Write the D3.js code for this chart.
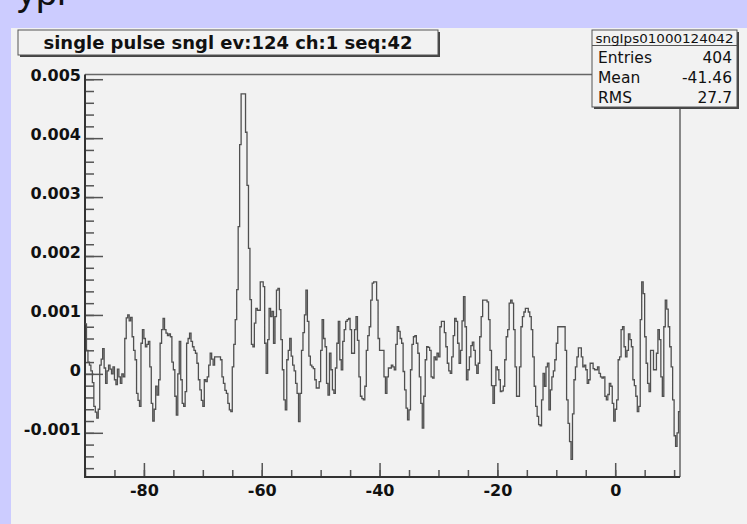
<!DOCTYPE html>
<html>
<head>
<meta charset="utf-8">
<script src="https://cdn.jsdelivr.net/npm/d3@7"></script>
<style>
  body { margin: 0; background: #ccccff; overflow: hidden; }
  svg { display: block; }
  .tick line { stroke: #555; stroke-width: 1.5; }
  .tick text { font-family: 'DejaVu Sans', sans-serif; font-weight: bold; font-size: 16px; fill: #111; }
</style>
</head>
<body>
<div id="chart"></div>
<script>
// histogram settings
const histTitle = 'single pulse sngl ev:124 ch:1 seq:42';
const histName = 'sngIps01000124042';
const xLimits = [-90, 11];

// bin contents, in units of 1e-4 (404 bins of 0.25)
const binContent = [
  8.5, 4, 2, 1.5, 0.5, -1.5, -5.5, -6.5, -7.5, -6,
  1.5, 2.5, 4.3, 1, -1.6, 0.5, 1.5, 0.8, 0, 1.2,
  -1, -1.8, 0.8, -0.5, -1.6, 0, -0.5, 6, 9.5, 10,
  9, 9.6, 6.3, 4, 2.4, -3.3, -4.5, -5.5, 5.2, 7.5,
  6, 4.6, 5, 5.5, 1.2, -5, -8, -6, -2.1, -3.6,
  -1, 5.2, 7.5, 9.4, 7.5, 6.9, 6.5, 6.8, 6.3, 2,
  0.7, -3.8, -7, 0, 5.5, -1, -5, -5.5, -3, 5.2,
  6, 6.9, 5.5, 4.6, 4, 3.5, 1.8, -1, -2.7, -4.5,
  -5.5, -1, -1.3, -0.5, 1.5, 3.5, 2.5, 1.5, 2.9, 2.9,
  2.9, 2.9, 2.4, -0.5, -1.6, -2.8, -3.3, -5, -6.1, -6.4,
  1.2, 5, 9.2, 14.3, 25, 38.9, 47.5, 47.5, 47.5, 41,
  32, 21.3, 12.6, 5, 4.6, 8.6, 11.1, 10.8, 10.8, 15.6,
  15.6, 14.8, 5.2, 0.1, 5.8, 11.1, 9.7, 10.6, 5.2, 9.7,
  14.2, 14.5, 10.9, 5.8, 0.7, -4.4, -6.1, 2.4, 4, 6,
  3, 1.5, 0.5, -1.6, -3.3, -8.1, -3.3, 4, 7, 10,
  14.2, 8.9, 3, 1.5, 1.2, 0.9, -1, -2.4, -2.4, -1.3,
  4, 9.2, 6, 4.6, -1.6, -3.6, 3.5, 0.7, -2.7, -3.3,
  1, 5.2, 8.9, 2.4, 0.7, 5.5, 7.5, 8.9, 9.2, 9.4,
  7.5, 3.5, 3.5, 7.5, 9.7, 5.7, -0.5, -3.8, -4.2, -4.4,
  -2.1, 4, 6.5, 8, 12.5, 15.4, 15.6, 15.6, 12.5, 6,
  4, 4, 4, -0.5, -3.3, -0.5, 1, 1, 1.5, 1.2,
  0.7, 5, 8, 7.2, 6, 5.2, 0.4, -2.7, -5.8, -7.8,
  -6.1, 0.7, 5, 6.3, 6.5, 5.2, 3.5, -0.5, -5, -9.2,
  -3.8, 2.4, 4.6, 4.5, 4, -0.5, -0.7, 2.9, 2.4, 3.5,
  2.9, 8, 8.9, 8.9, 7, 4.6, 1.8, 0.5, 0.1, 2.9,
  6.5, 9.4, 8.9, 5.2, 1.8, 4, 9, 13.1, 8, -1,
  0.7, 2.9, 4.8, 5.4, 4, 1.5, 0.1, 1.8, 6.3, 9.7,
  12.5, 12.5, 12.5, 12.2, 9.2, 4, -2, -5, -2, 1.2,
  0.7, -1, -3, -2.9, -2.1, 2.4, 6.3, 7.5, 12, 12.5,
  12, 7.5, 1.2, -3.8, -3.8, 1.2, 8, 9.7, 10.5, 11.1,
  11.1, 10.5, 9.7, 7.5, 2.9, -2.1, -5.5, -7.2, -8.6, -8.8,
  -4.4, 0.1, -2.1, 1.2, 1.8, -6.1, -2.7, -0.5, 0.5, 2.4,
  5.2, 8, 8, 8, 8, 8, 4, -4.4, -8.4, -11.5,
  -14.5, -6.8, -1, 1.2, 2.9, 4.4, 4.4, 2.9, 1.2, 1.5,
  0.7, -1.6, -1, 1.8, 1.8, 0.9, 0.7, 0.7, 1.2, 0.1,
  -0.5, -0.7, -0.5, -3.8, -4.4, -3.5, -1.6, -2.1, -5, -8,
  -6, -4.4, 2.4, 2.9, 7.5, 8, 4.6, 2.9, 4, 6.8,
  5.8, 4.6, -1, -2, -3.8, -6.4, -5.5, 9.2, 15.6, 13.6,
  6.3, 1.8, -1.6, -3, 4, 4, 0.7, 0.7, 3.5, 7.5,
  5.8, -0.5, -3.8, 8, 12.5, 11, 8, 4.6, 1.2, -4.4,
  -10.5, -12.3, -10, -6.4
];

// axis ticks and labels
const xTickValues = [-80, -60, -40, -20, 0];
const xTickLabels = ['-80', '-60', '-40', '-20', '0'];
const yTickValues = [-0.001, 0, 0.001, 0.002, 0.003, 0.004, 0.005];
const yTickLabels = ['-0.001', '0', '0.001', '0.002', '0.003', '0.004', '0.005'];

// statistics box
const statNames = ['Entries', 'Mean', 'RMS'];
const statValues = ['404', '-41.46', '27.7'];

class HistogramChart {

  constructor(_config) {
    this.config = {
      parentElement: _config.parentElement,
      containerWidth: 747,
      containerHeight: 524,
      frame: { left: 85, right: 680, top: 74.5, bottom: 477 }
    };
    this.initVis();
  }

  initVis() {
    let vis = this;
    const f = vis.config.frame;

    vis.svg = d3.select(vis.config.parentElement).append('svg')
      .attr('width', vis.config.containerWidth)
      .attr('height', vis.config.containerHeight);

    // bit of page heading that is cut off above the canvas
    vis.svg.append('text')
      .attr('x', 17)
      .attr('y', 5)
      .style('font-family', 'Liberation Sans, sans-serif')
      .style('font-size', '38px')
      .style('fill', '#111')
      .text('ypi');

    // canvas
    vis.svg.append('rect')
      .attr('x', 11)
      .attr('y', 28)
      .attr('width', 736)
      .attr('height', 496)
      .attr('fill', '#f2f2f2');

    vis.xScale = d3.scaleLinear()
      .domain(xLimits)
      .range([f.left, f.right]);
    vis.yScale = d3.scaleLinear()
      .domain([-0.00175, 0.00508])
      .range([f.bottom, f.top]);

    // minor ticks first, then major ticks with labels (ticks point inwards)
    vis.svg.append('g')
      .attr('transform', `translate(0,${f.bottom})`)
      .call(d3.axisBottom(vis.xScale)
        .tickValues(d3.range(-90, 11, 5))
        .tickSize(-7).tickSizeOuter(0).tickFormat(''))
      .call(g => g.select('.domain').remove());

    vis.svg.append('g')
      .attr('transform', `translate(0,${f.bottom})`)
      .call(d3.axisBottom(vis.xScale)
        .tickValues(xTickValues)
        .tickSize(-14).tickSizeOuter(0)
        .tickFormat((d, i) => xTickLabels[i]))
      .call(g => g.select('.domain').remove())
      .call(g => g.selectAll('text').attr('y', 19).attr('dy', null));

    vis.svg.append('g')
      .attr('transform', `translate(${f.left},0)`)
      .call(d3.axisLeft(vis.yScale)
        .tickValues(d3.range(-16, 51, 2).map(d => d * 1e-4))
        .tickSize(-9).tickSizeOuter(0).tickFormat(''))
      .call(g => g.select('.domain').remove());

    vis.svg.append('g')
      .attr('transform', `translate(${f.left},0)`)
      .call(d3.axisLeft(vis.yScale)
        .tickValues(yTickValues)
        .tickSize(-18).tickSizeOuter(0)
        .tickFormat((d, i) => yTickLabels[i]))
      .call(g => g.select('.domain').remove())
      .call(g => g.selectAll('text').attr('x', -4).attr('dy', '0.1em'));

    // frame: thin top/right, heavier axis lines
    vis.svg.append('path')
      .attr('d', `M${f.left},${f.top}H${f.right}V${f.bottom}`)
      .attr('fill', 'none')
      .attr('stroke', '#666')
      .attr('stroke-width', 1.5);
    vis.svg.append('path')
      .attr('d', `M${f.left},${f.top}V${f.bottom}H${f.right}`)
      .attr('fill', 'none')
      .attr('stroke', '#333')
      .attr('stroke-width', 2);

    vis.histLine = vis.svg.append('path')
      .attr('fill', 'none')
      .attr('stroke', '#505050')
      .attr('stroke-width', 1.3);

    vis.drawTitleBox();
    vis.drawStatsBox();
  }

  renderVis() {
    let vis = this;
    const binWidth = (xLimits[1] - xLimits[0]) / binContent.length;

    // step line: one horizontal run per bin
    const points = binContent.map((v, i) => [xLimits[0] + i * binWidth, v * 1e-4]);
    points.push([xLimits[1], binContent[binContent.length - 1] * 1e-4]);

    const line = d3.line()
      .x(d => vis.xScale(d[0]))
      .y(d => vis.yScale(d[1]))
      .curve(d3.curveStepAfter);

    vis.histLine.attr('d', line(points));
  }

  drawTitleBox() {
    let vis = this;
    const g = vis.svg.append('g');
    g.append('rect')
      .attr('x', 20).attr('y', 32)
      .attr('width', 420).attr('height', 25)
      .attr('fill', '#444');
    g.append('rect')
      .attr('x', 18).attr('y', 30)
      .attr('width', 420).attr('height', 25)
      .attr('fill', '#f2f2f2')
      .attr('stroke', '#555')
      .attr('stroke-width', 1);
    g.append('text')
      .attr('x', 228).attr('y', 49)
      .attr('text-anchor', 'middle')
      .attr('textLength', 369)
      .attr('lengthAdjust', 'spacingAndGlyphs')
      .style('font-family', 'DejaVu Sans, sans-serif')
      .style('font-weight', 'bold')
      .style('font-size', '18px')
      .style('fill', '#111')
      .text(histTitle);
  }

  drawStatsBox() {
    let vis = this;
    const g = vis.svg.append('g');
    g.append('rect')
      .attr('x', 594).attr('y', 32)
      .attr('width', 145).attr('height', 77)
      .attr('fill', '#444');
    g.append('rect')
      .attr('x', 592).attr('y', 30)
      .attr('width', 145).attr('height', 77)
      .attr('fill', '#f2f2f2')
      .attr('stroke', '#555')
      .attr('stroke-width', 1);
    g.append('line')
      .attr('x1', 592).attr('x2', 737)
      .attr('y1', 45.5).attr('y2', 45.5)
      .attr('stroke', '#555');
    g.append('text')
      .attr('x', 664.5).attr('y', 43)
      .attr('text-anchor', 'middle')
      .attr('textLength', 138)
      .attr('lengthAdjust', 'spacingAndGlyphs')
      .style('font-family', 'DejaVu Sans, sans-serif')
      .style('font-size', '12px')
      .style('fill', '#111')
      .text(histName);

    const rows = g.selectAll('.stat-row')
      .data(statNames)
      .join('g')
      .attr('class', 'stat-row')
      .attr('transform', (d, i) => `translate(0,${63 + i * 20})`)
      .style('font-family', 'DejaVu Sans, sans-serif')
      .style('font-size', '15.5px')
      .style('fill', '#111');
    rows.append('text')
      .attr('x', 598)
      .text(d => d);
    rows.append('text')
      .attr('x', 732)
      .attr('text-anchor', 'end')
      .text((d, i) => statValues[i]);
  }
}

const chart = new HistogramChart({ parentElement: '#chart' });
chart.renderVis();
</script>
</body>
</html>
